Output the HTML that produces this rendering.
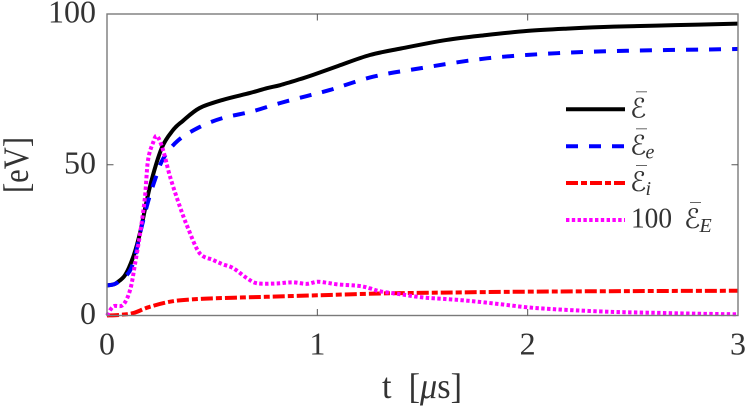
<!DOCTYPE html>
<html>
<head>
<meta charset="utf-8">
<style>
html,body{margin:0;padding:0;background:#fff;}
svg{display:block;font-family:"Liberation Serif",serif;}
</style>
</head>
<body>
<svg id="chart" width="747" height="410" viewBox="0 0 747 410" xmlns="http://www.w3.org/2000/svg"></svg>
<script>
const xTicks = [0, 1, 2, 3];
const yTicks = [0, 50, 100];
const totalT = [0,0.03,0.047,0.086,0.125,0.157,0.204,0.26,0.314,0.36,0.44,0.55,0.68,0.76,0.823,0.918,0.98,1.1,1.25,1.4,1.615,1.8,2,2.2,2.41,2.7,3];
const totalE = [10,10.3,10.9,13.4,19.5,27.4,42.7,55.5,61.5,64.5,68.8,71.5,73.8,75.4,76.4,78.4,79.8,82.8,86.4,88.6,91.4,93,94.4,95.2,95.8,96.3,96.8];
const electronT = [0,0.03,0.06,0.117,0.165,0.195,0.228,0.267,0.337,0.44,0.55,0.68,0.82,0.95,1.06,1.265,1.49,1.806,2.14,2.47,2.915,3];
const electronE = [10,10.3,11.5,16,29.5,37.7,45,52,58,62.5,65.5,67.5,70.4,72.8,74.8,79.2,82,85.3,87,87.8,88.3,88.4];
const ionT = [0,0.06,0.125,0.2,0.31,0.44,0.6,0.76,1,1.3,1.6,2,2.5,3];
const ionE = [0,0.2,0.8,2.8,4.7,5.5,5.9,6.2,6.7,7.3,7.6,7.9,8.1,8.2];
const fieldT = [0,0.03,0.076,0.11,0.133,0.157,0.18,0.195,0.22,0.238,0.266,0.3,0.347,0.385,0.44,0.505,0.55,0.6,0.665,0.713,0.8,0.88,0.95,1,1.05,1.1,1.2,1.25,1.3,1.4,1.5,1.6,1.7,1.8,1.9,2,2.1,2.2,2.4,2.6,2.8,3];
const fieldE = [0,3,3.5,8.5,17,27,39,51.5,57.5,59.5,55,46,36,29,20.7,18.4,17,15.7,12.4,10.7,10.6,11,10.5,11.2,10.8,10.3,9.8,9,8,7,6,5.5,5,4.3,3.5,2.7,2.2,1.8,1.2,0.9,0.6,0.4];

const svg = document.getElementById('chart');
const NS = 'http://www.w3.org/2000/svg';
const X0 = 107, X1 = 738, Y0 = 315.5, Y1 = 14;
const sx = t => X0 + (t / 3) * (X1 - X0);
const sy = v => Y0 - (v / 100) * (Y0 - Y1);

function make(tag, attrs, parent) {
  const el = document.createElementNS(NS, tag);
  for (const k in attrs) el.setAttribute(k, attrs[k]);
  (parent || svg).appendChild(el);
  return el;
}
function smoothPath(ts, vs) {
  const p = ts.map((t, i) => [sx(t), sy(vs[i])]);
  let d = 'M' + p[0][0].toFixed(2) + ' ' + p[0][1].toFixed(2);
  for (let i = 0; i < p.length - 1; i++) {
    const a = p[Math.max(i - 1, 0)], b = p[i], c = p[i + 1], e = p[Math.min(i + 2, p.length - 1)];
    d += 'C' + (b[0] + (c[0] - a[0]) / 6).toFixed(2) + ' ' + (b[1] + (c[1] - a[1]) / 6).toFixed(2) + ' ' +
         (c[0] - (e[0] - b[0]) / 6).toFixed(2) + ' ' + (c[1] - (e[1] - b[1]) / 6).toFixed(2) + ' ' +
         c[0].toFixed(2) + ' ' + c[1].toFixed(2);
  }
  return d;
}

const bg = make('rect', {x: 0, y: 0, width: 747, height: 410, fill: '#fff'});



const series = [
  {t: totalT, v: totalE, color: '#000', dash: '', cap: 'butt', w: 4, name: 'series-total-energy'},
  {t: electronT, v: electronE, color: '#0000ff', dash: '12 11', cap: 'butt', w: 4, name: 'series-electron-energy'},
  {t: ionT, v: ionE, color: '#ff0000', dash: '12 3 6 3', cap: 'butt', w: 4, name: 'series-ion-energy'},
  {t: fieldT, v: fieldE, color: '#ff00ff', dash: '3.4 2.4', cap: 'butt', w: 4, name: 'series-field-energy'}
];
series.forEach(s => {
  const path = make('path', {d: smoothPath(s.t, s.v), fill: 'none', stroke: s.color, 'stroke-width': s.w, 'stroke-dasharray': s.dash, 'stroke-linecap': s.cap, 'stroke-linejoin': 'round'});
  
  
});

const frame = make('rect', {x: X0, y: Y1, width: X1 - X0, height: Y0 - Y1, fill: 'none', stroke: '#7a7a7a', 'stroke-width': 1.4});



xTicks.forEach(t => {
  const x = sx(t);
  if (t > 0 && t < 3) {
    const a = make('line', {x1: x, x2: x, y1: Y0, y2: Y0 - 6.5, stroke: '#555', 'stroke-width': 1});
    
    
    const b = make('line', {x1: x, x2: x, y1: Y1, y2: Y1 + 6.5, stroke: '#555', 'stroke-width': 1});
    
    
  }
  const label = make('text', {x: x, y: 354.5, 'text-anchor': 'middle', 'font-size': 32, fill: '#333'});
  
  
  label.textContent = t;
});
yTicks.forEach(v => {
  const y = sy(v);
  if (v > 0 && v < 100) {
    const a = make('line', {x1: X0, x2: X0 + 6.5, y1: y, y2: y, stroke: '#555', 'stroke-width': 1});
    
    
    const b = make('line', {x1: X1, x2: X1 - 6.5, y1: y, y2: y, stroke: '#555', 'stroke-width': 1});
    
    
  }
  const label = make('text', {x: 96, y: y + 8.5, 'text-anchor': 'end', 'font-size': 32, fill: '#333'});
  
  
  label.textContent = v;
});

const xTitle = make('text', {x: 382, y: 398, 'font-size': 36, fill: '#333', textLength: 80, lengthAdjust: 'spacingAndGlyphs'});


xTitle.innerHTML = 't&#160;&#160;[<tspan font-style="italic">μ</tspan>s]';

const yTitle = make('text', {x: 0, y: 0, transform: 'translate(28 193) rotate(-90)', 'font-size': 36, fill: '#333', textLength: 56, lengthAdjust: 'spacingAndGlyphs'});


yTitle.textContent = '[eV]';

const legendRows = [
  {y: 109.3, color: '#000', dash: '', w: 4, prefix: '', sub: '', name: 'legend-entry-total'},
  {y: 146.3, color: '#0000ff', dash: '12 11', w: 4, prefix: '', sub: 'e', name: 'legend-entry-electron'},
  {y: 183, color: '#ff0000', dash: '12 3 6 3', w: 4, prefix: '', sub: 'i', name: 'legend-entry-ion'},
  {y: 220, color: '#ff00ff', dash: '3.4 2.4', w: 4, prefix: '100', sub: 'E', name: 'legend-entry-field'}
];
legendRows.forEach(r => {
  const g = make('g', {});
  
  
  make('line', {x1: 566, x2: 625, y1: r.y, y2: r.y, stroke: r.color, 'stroke-width': r.w, 'stroke-dasharray': r.dash}, g);
  let x = 630;
  if (r.prefix) {
    const p = make('text', {x: 631, y: r.y + 7.5, 'font-size': 28, fill: '#333', textLength: 41, lengthAdjust: 'spacingAndGlyphs'}, g);
    p.textContent = r.prefix;
    x = 684;
  }
  const e = make('text', {x: x, y: r.y + 8, 'font-size': 27, 'font-style': 'italic', fill: '#333', 'font-family': '"DejaVu Serif","DejaVu Sans",serif'}, g);
  e.textContent = 'ℰ';
  make('line', {x1: x + 6, x2: x + 17, y1: r.y - 17.5, y2: r.y - 17.5, stroke: '#666', 'stroke-width': 1}, g);
  if (r.sub) {
    const s = make('text', {x: x + 15.5, y: r.y + 12, 'font-size': 20, 'font-style': 'italic', fill: '#333'}, g);
    s.textContent = r.sub;
  }
});
</script>
</body>
</html>
